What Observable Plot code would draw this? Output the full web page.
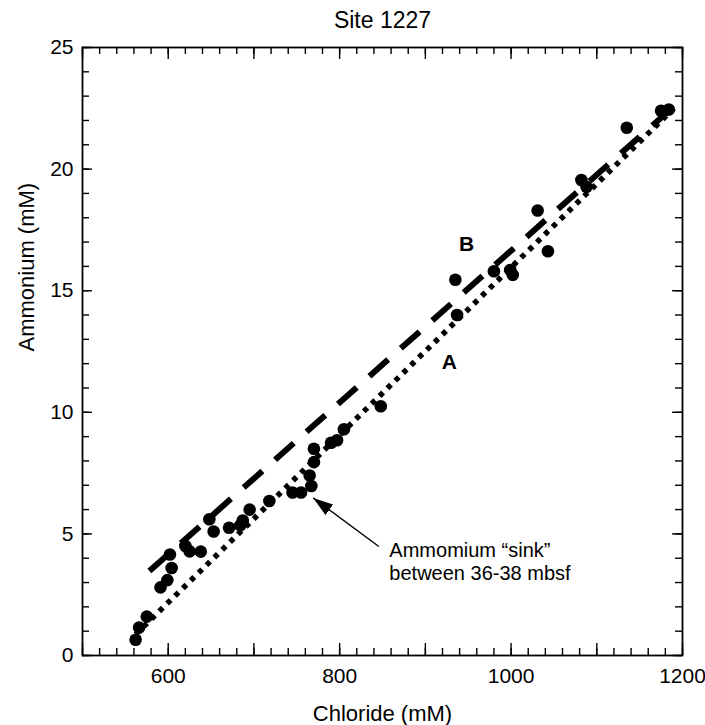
<!DOCTYPE html>
<html>
<head>
<meta charset="utf-8">
<script src="https://cdn.jsdelivr.net/npm/d3@7"></script>
<script src="https://cdn.jsdelivr.net/npm/@observablehq/plot@0.6"></script>
<style>
  body { margin: 0; background: #fff; }
  #chart svg { display: block; }
</style>
</head>
<body>
<div id="chart"></div>
<script>
// ---- data ----
const chloride = [562, 566, 575, 591, 599, 604, 602, 620, 625, 638, 648, 653, 671, 684, 687, 695, 718, 745, 755, 767, 765, 770, 770, 790, 797, 805, 848, 935, 937, 980, 999, 1002, 1043, 1031, 1082, 1088, 1135, 1175, 1184];
const ammonium = [0.65, 1.15, 1.6, 2.8, 3.1, 3.6, 4.15, 4.5, 4.28, 4.27, 5.6, 5.1, 5.25, 5.35, 5.55, 6.0, 6.35, 6.7, 6.7, 6.97, 7.4, 7.95, 8.5, 8.75, 8.85, 9.3, 10.25, 15.45, 14.0, 15.8, 15.85, 15.65, 16.62, 18.3, 19.55, 19.27, 21.7, 22.4, 22.45];

const lineAChloride = [562, 1190];
const lineAAmmonium = [0.87, 22.5];
const lineBChloride = [578, 1183];
const lineBAmmonium = [3.47, 22.36];

const lineLabels = ["A", "B"];
const lineLabelChloride = [928, 948];
const lineLabelAmmonium = [12.07, 16.9];

const noteText = ["Ammomium \u201csink\u201d\nbetween 36-38 mbsf"];
const noteChloride = [858];
const noteAmmonium = [4.69];
const arrowChloride = [845.7, 769.2];
const arrowAmmonium = [4.48, 6.48];

const titleText = ["Site 1227"];
const xLabel = ["Chloride (mM)"];
const yLabel = ["Ammonium (mM)"];

const xTickLabels = [600, 800, 1000, 1200];
const yTickLabels = [0, 5, 10, 15, 20, 25];
const xMajorTicks = d3.range(500, 1201, 100);
const xMinorTicks = d3.range(500, 1201, 20);
const yMajorTicks = d3.range(0, 26, 5);
const yMinorTicks = d3.range(0, 26, 1);

// ---- layout ----
const W = 705, H = 725;
const mL = 82, mR = 23, mT = 47, mB = 70;
const fw = W - mL - mR, fh = H - mT - mB;
const font = "'Liberation Sans', Arial, Helvetica, sans-serif";

function filledArrow(color, context) {
  const doc = (context && context.document) || document;
  const ns = "http://www.w3.org/2000/svg";
  const m = doc.createElementNS(ns, "marker");
  m.setAttribute("viewBox", "-20 -7 20 14");
  m.setAttribute("markerWidth", "20");
  m.setAttribute("markerHeight", "14");
  m.setAttribute("refX", "0");
  m.setAttribute("refY", "0");
  m.setAttribute("orient", "auto");
  m.setAttribute("markerUnits", "userSpaceOnUse");
  const p = doc.createElementNS(ns, "path");
  p.setAttribute("d", "M-20,-6.5L0,0L-20,6.5Z");
  p.setAttribute("fill", color);
  p.setAttribute("stroke", "none");
  m.appendChild(p);
  return m;
}

const chart = Plot.plot({
  width: W,
  height: H,
  marginLeft: mL,
  marginRight: mR,
  marginTop: mT,
  marginBottom: mB,
  style: { fontFamily: font, color: "black", background: "white" },
  x: { domain: [500, 1200] },
  y: { domain: [0, 25] },
  marks: [
    // ticks, inward on all four sides
    Plot.tickX(xMinorTicks, { x: d => d, insetTop: fh - 7, stroke: "black", strokeWidth: 1.4 }),
    Plot.tickX(xMajorTicks, { x: d => d, insetTop: fh - 12, stroke: "black", strokeWidth: 1.4 }),
    Plot.tickX(xMinorTicks, { x: d => d, insetBottom: fh - 7, stroke: "black", strokeWidth: 1.4 }),
    Plot.tickX(xMajorTicks, { x: d => d, insetBottom: fh - 12, stroke: "black", strokeWidth: 1.4 }),
    Plot.tickY(yMinorTicks, { y: d => d, insetRight: fw - 7, stroke: "black", strokeWidth: 1.4 }),
    Plot.tickY(yMajorTicks, { y: d => d, insetRight: fw - 10, stroke: "black", strokeWidth: 1.4 }),
    Plot.tickY(yMinorTicks, { y: d => d, insetLeft: fw - 7, stroke: "black", strokeWidth: 1.4 }),
    Plot.tickY(yMajorTicks, { y: d => d, insetLeft: fw - 10, stroke: "black", strokeWidth: 1.4 }),
    Plot.frame({ stroke: "black", strokeWidth: 1.8 }),
    Plot.axisX(xTickLabels, { tickSize: 0, tickPadding: 13, fontSize: 21, label: null, fill: "black", tickFormat: d => String(d) }),
    Plot.axisY(yTickLabels, { tickSize: 0, tickPadding: 9, fontSize: 21, label: null, fill: "black", tickFormat: d => String(d) }),
    // fitted lines
    Plot.line(d3.zip(lineAChloride, lineAAmmonium), {
      x: d => d[0], y: d => d[1], stroke: "black", strokeWidth: 5.5,
      strokeDasharray: "5,6", strokeLinecap: "butt"
    }),
    Plot.line(d3.zip(lineBChloride, lineBAmmonium), {
      x: d => d[0], y: d => d[1], stroke: "black", strokeWidth: 6,
      strokeDasharray: "25,17", strokeLinecap: "butt"
    }),
    // data points
    Plot.dot(d3.zip(chloride, ammonium), { x: d => d[0], y: d => d[1], r: 6.3, fill: "black", stroke: "none" }),
    // line labels
    Plot.text(lineLabels, {
      x: (d, i) => lineLabelChloride[i], y: (d, i) => lineLabelAmmonium[i],
      text: d => d, fontSize: 21, fontWeight: "bold", fill: "black"
    }),
    // annotation
    Plot.link([0], {
      x1: () => arrowChloride[0], y1: () => arrowAmmonium[0],
      x2: () => arrowChloride[1], y2: () => arrowAmmonium[1],
      stroke: "black", strokeWidth: 1.4, markerEnd: filledArrow
    }),
    Plot.text(noteText, {
      x: (d, i) => noteChloride[i], y: (d, i) => noteAmmonium[i],
      text: d => d, textAnchor: "start", lineAnchor: "top", lineHeight: 1.12,
      fontSize: 20, fill: "black"
    }),
    // title and axis labels
    Plot.text(titleText, { frameAnchor: "top", lineAnchor: "middle", dy: -27, text: d => d, fontSize: 23, fill: "black" }),
    Plot.text(xLabel, { frameAnchor: "bottom", lineAnchor: "middle", dy: 58, text: d => d, fontSize: 22, fill: "black" }),
    Plot.text(yLabel, { frameAnchor: "left", lineAnchor: "middle", dx: -56, rotate: -90, text: d => d, fontSize: 22, fill: "black" })
  ]
});

document.getElementById("chart").appendChild(chart);
</script>
</body>
</html>
